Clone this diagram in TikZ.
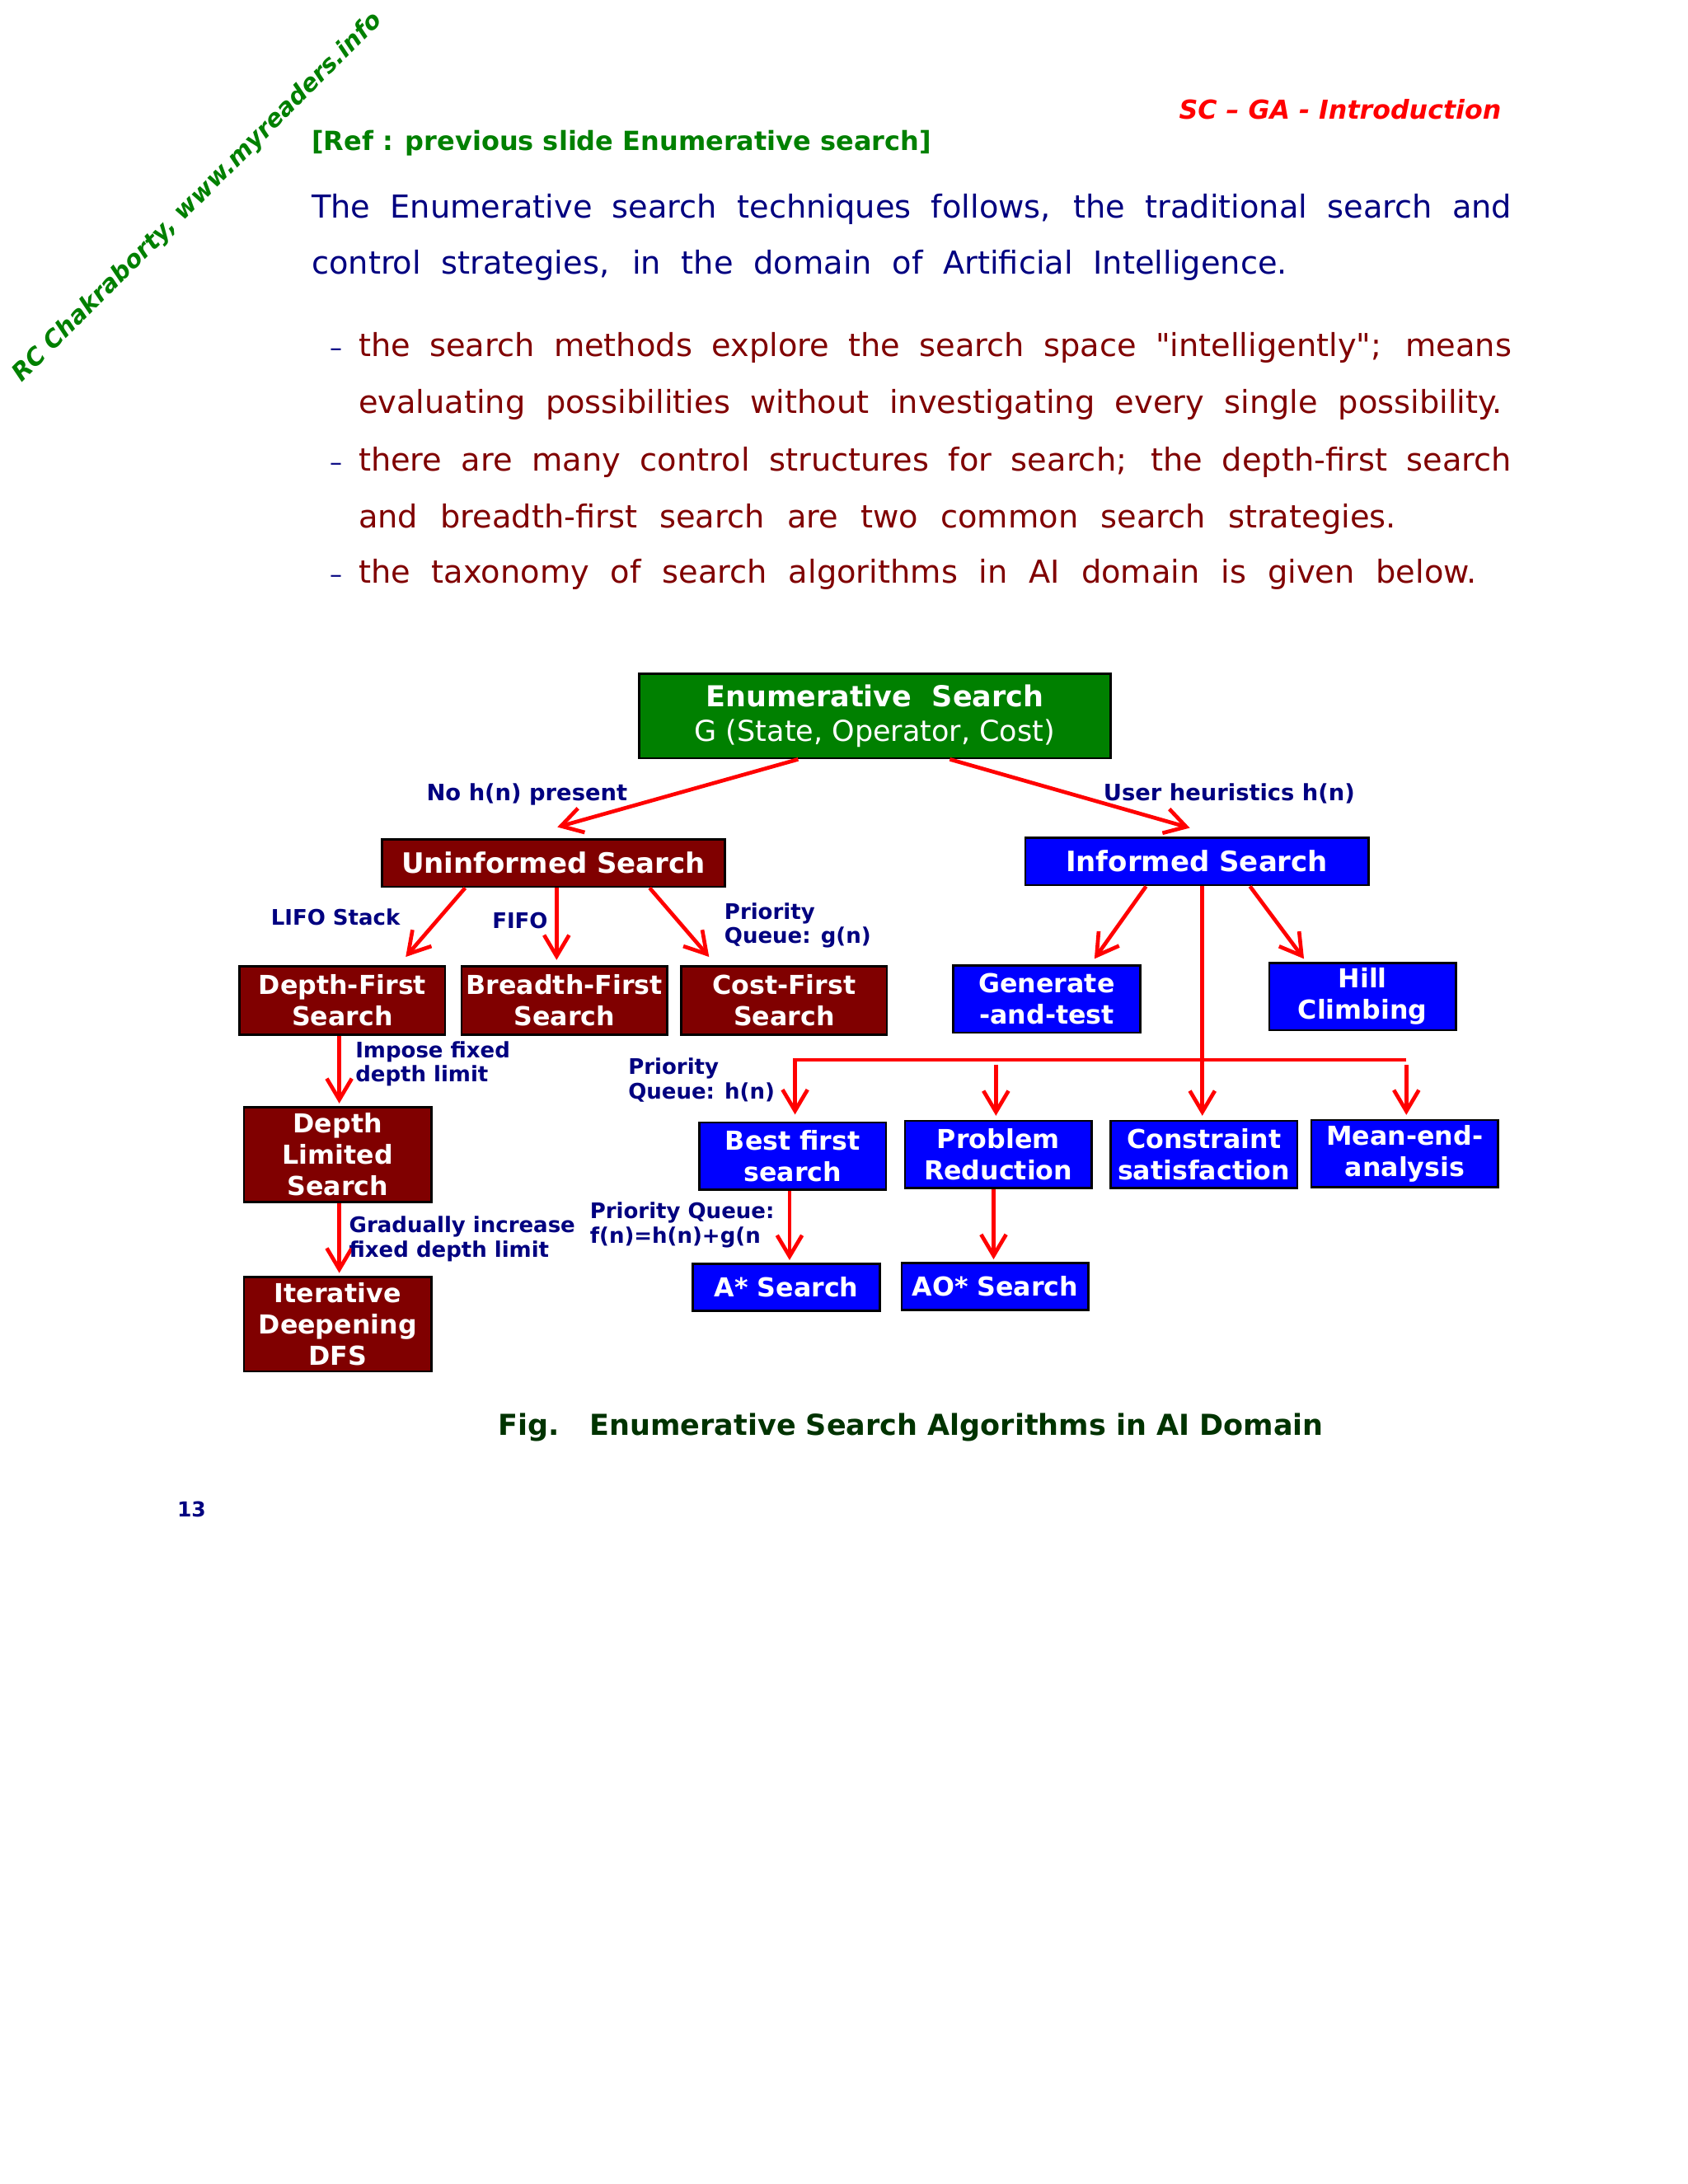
\documentclass[tikz,border=0pt]{standalone}
\usepackage{fontspec}
\setmainfont{DejaVu Sans}[Ligatures=TeXOff]
\usepackage{xcolor}
\usepackage{tikz}
\usetikzlibrary{arrows.meta,positioning,calc}
\definecolor{SlideGreen}{HTML}{008000}
\definecolor{SlideMaroon}{HTML}{800000}
\definecolor{SlideBlue}{HTML}{0000FF}
\definecolor{SlideNavy}{HTML}{000080}
\definecolor{SlideRed}{HTML}{FF0000}
\definecolor{SlideDark}{HTML}{003300}
\tikzset{
  algbox/.style={draw=black,line width=0.8pt,text=white,align=center,inner sep=0pt,
    font=\bfseries\fontsize{9.5}{11.4}\selectfont,minimum width=2.39cm,minimum height=0.86cm},
  ubox/.style={algbox,fill=SlideMaroon},
  ibox/.style={algbox,fill=SlideBlue},
  arr/.style={-{Straight Barb[length=2.7mm,width=3.2mm]},SlideRed,line width=1.4pt},
  lbl/.style={SlideNavy,font=\bfseries\fontsize{7.8}{8.9}\selectfont,align=left,inner sep=0pt,anchor=base west},
  txtline/.style={anchor=base west,inner sep=0pt,font=\fontsize{11.5}{14}\selectfont},
}

\begin{document}
\begin{tikzpicture}
\fill[white] (0,0) rectangle (21.59,-27.94);
\useasboundingbox (0,0) rectangle (21.59,-27.94);

% page head
\node[SlideGreen,rotate=45,inner sep=0pt,font=\bfseries\itshape\fontsize{8.8}{10}\selectfont] (mark) at (2.53,-2.53) {RC Chakraborty, www.myreaders.info};
\node[SlideRed,anchor=base east,inner sep=0pt,font=\bfseries\itshape\fontsize{9.5}{11}\selectfont] (hdr) at (19.21,-1.52) {SC – GA - Introduction};
\node[SlideGreen,anchor=base west,inner sep=0pt,font=\bfseries\fontsize{9.6}{11}\selectfont] (ref) at (3.98,-1.92) {[Ref : previous slide Enumerative search]};

% text
\node[txtline,SlideNavy] (body1) at (3.98,-2.79) {\makebox[15.35cm][s]{The Enumerative search techniques follows, the traditional search and}};
\node[txtline,SlideNavy] (body2) at (3.98,-3.51) {\makebox[12.48cm][s]{control strategies, in the domain of Artificial Intelligence.}};
\node[txtline,SlideMaroon] (pt1) at (4.58,-4.56) {\makebox[14.75cm][s]{the search methods explore the search space "intelligently"; means}};
\node[txtline,SlideMaroon] (pt1b) at (4.58,-5.29) {\makebox[14.63cm][s]{evaluating possibilities without investigating every single possibility.}};
\node[txtline,SlideMaroon] (pt2) at (4.58,-6.03) {\makebox[14.75cm][s]{there are many control structures for search; the depth-first search}};
\node[txtline,SlideMaroon] (pt2b) at (4.58,-6.75) {\makebox[13.27cm][s]{and breadth-first search are two common search strategies.}};
\node[txtline,SlideMaroon] (pt3) at (4.58,-7.46) {\makebox[14.30cm][s]{the taxonomy of search algorithms in AI domain is given below.}};
\node[txtline,SlideNavy,font=\fontsize{9}{10}\selectfont] (dash1) at (4.22,-4.56) {–};
\node[txtline,SlideNavy,font=\fontsize{9}{10}\selectfont] (dash2) at (4.22,-6.03) {–};
\node[txtline,SlideNavy,font=\fontsize{9}{10}\selectfont] (dash3) at (4.22,-7.46) {–};

% taxonomy
\node[algbox,fill=SlideGreen,minimum width=6.03cm,minimum height=1.08cm,font=\fontsize{10.5}{12.5}\selectfont] (enum) at (11.19,-9.16) {\textbf{Enumerative\ \ Search}\\G (State, Operator, Cost)};
\node[ubox,minimum width=4.39cm,minimum height=0.61cm,font=\bfseries\fontsize{10.2}{12}\selectfont] (uninf) at (7.08,-11.04) {Uninformed Search};
\node[ibox,minimum width=4.39cm,minimum height=0.61cm,font=\bfseries\fontsize{10.2}{12}\selectfont] (inf) at (15.31,-11.02) {Informed Search};

\node[ubox,minimum width=2.63cm,minimum height=0.87cm] (dfs) at (4.38,-12.80) {Depth-First\\Search};
\node[ubox,minimum width=2.63cm,minimum height=0.87cm] (bfs) at (7.22,-12.80) {Breadth-First\\Search};
\node[ubox,minimum width=2.63cm,minimum height=0.87cm] (cfs) at (10.03,-12.80) {Cost-First\\Search};
\node[ubox,minimum width=2.40cm,minimum height=1.21cm] (dls) at (4.32,-14.77) {Depth\\Limited\\Search};
\node[ubox,minimum width=2.40cm,minimum height=1.21cm] (iddfs) at (4.32,-16.94) {Iterative\\Deepening\\DFS};

\node[ibox] (gentest) at (13.39,-12.78) {Generate\\-and-test};
\node[ibox] (hill) at (17.43,-12.75) {Hill\\Climbing};
\node[ibox] (bestf) at (10.14,-14.79) {Best first\\search};
\node[ibox] (probred) at (12.77,-14.77) {Problem\\Reduction};
\node[ibox] (constr) at (15.40,-14.77) {Constraint\\satisfaction};
\node[ibox] (meanend) at (17.97,-14.76) {Mean-end-\\analysis};
\node[ibox,minimum height=0.60cm] (astar) at (10.06,-16.47) {A* Search};
\node[ibox,minimum height=0.60cm] (aostar) at (12.73,-16.46) {AO* Search};

% connectors
\draw[arr] ([xshift=-0.98cm]enum.south) -- ([xshift=0.05cm,yshift=0.14cm]uninf.north);
\draw[arr] ([xshift=0.96cm]enum.south) -- ([xshift=-0.09cm,yshift=0.11cm]inf.north);
\draw[arr] ([xshift=-1.13cm]uninf.south) -- ([xshift=0.81cm,yshift=0.11cm]dfs.north);
\draw[arr,shorten >=2pt] ([xshift=0.04cm]uninf.south) -- ([xshift=0.04cm]uninf.south |- bfs.north);
\draw[arr] ([xshift=1.23cm]uninf.south) -- ([xshift=-0.96cm,yshift=0.11cm]cfs.north);
\draw[arr] ([xshift=-0.65cm]inf.south) -- ([xshift=0.61cm,yshift=0.07cm]gentest.north);
\draw[arr] ([xshift=0.68cm]inf.south) -- ([xshift=-0.75cm,yshift=0.04cm]hill.north);
\draw[arr,shorten >=1.5pt] ([xshift=0.07cm]inf.south) -- ([xshift=0.07cm]inf.south |- constr.north);
\coordinate (busL) at (10.17,-13.56);
\coordinate (busR) at (17.99,-13.56);
\draw[arr,shorten >=2.5pt] (busR) -- (busL) -- (busL |- bestf.north);
\draw[arr,shorten >=1.5pt] ([xshift=-0.03cm,yshift=-0.06cm]busL -| probred.north) -- ([xshift=-0.03cm]probred.north);
\draw[arr,shorten >=1.5pt] ([yshift=-0.06cm]busR) -- (busR |- meanend.north);
\draw[arr,shorten >=1pt] ([xshift=-0.04cm]dfs.south) -- ([xshift=-0.04cm]dfs.south |- dls.north);
\draw[arr,shorten >=1pt] ([xshift=0.02cm]dls.south) -- ([xshift=0.02cm]iddfs.north);
\draw[arr,shorten >=1pt] ([xshift=-0.04cm]bestf.south) -- ([xshift=-0.04cm]bestf.south |- astar.north);
\draw[arr,shorten >=1pt] ([xshift=-0.06cm]probred.south) -- ([xshift=-0.06cm]probred.south |- aostar.north);

% connector labels (base = last line)
\node[lbl,font=\bfseries\fontsize{8.2}{9}\selectfont] (nohn) at (5.45,-10.24) {No h(n) present};
\node[lbl,font=\bfseries\fontsize{8.2}{9}\selectfont] (userh) at (14.11,-10.24) {User heuristics h(n)};
\node[lbl] (lifo) at (3.46,-11.84) {LIFO Stack};
\node[lbl] (fifo) at (6.29,-11.88) {FIFO};
\node[lbl] (pqg) at (9.26,-12.07) {Priority\\Queue: g(n)};
\node[lbl] (impose) at (4.54,-13.84) {Impose fixed\\depth limit};
\node[lbl] (pqh) at (8.03,-14.06) {Priority\\Queue: h(n)};
\node[lbl] (gradual) at (4.46,-16.08) {Gradually increase\\fixed depth limit};
\node[lbl] (pqf) at (7.54,-15.90) {Priority Queue:\\f(n)=h(n)+g(n};

% caption
\node[SlideDark,anchor=base west,inner sep=0pt,font=\bfseries\fontsize{10.5}{12}\selectfont] (caption) at (6.37,-18.36) {Fig.\ \ \ Enumerative Search Algorithms in AI Domain};
\node[SlideNavy,anchor=base west,inner sep=0pt,font=\bfseries\fontsize{7.5}{9}\selectfont] (pageno) at (2.26,-19.41) {13};
\end{tikzpicture}
\end{document}
